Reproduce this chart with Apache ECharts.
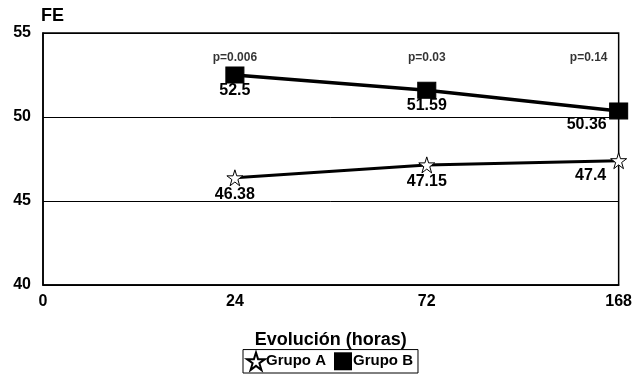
<!DOCTYPE html>
<html>
<head>
<meta charset="utf-8">
<script src="https://cdn.jsdelivr.net/npm/echarts@6/dist/echarts.min.js"></script>
<style>
html,body{margin:0;padding:0;background:#fff;}
#chart{width:635px;height:374px;}
</style>
</head>
<body>
<div id="chart"></div>
<script>
var horas = ['0', '24', '72', '168'];
var grupoA = [null, 46.38, 47.15, 47.4];
var grupoB = [null, 52.5, 51.59, 50.36];
var pValores = ['', 'p=0.006', 'p=0.03', 'p=0.14'];
var pAltura = 53.55; // altura (en FE) de la fila de valores p
var yTicks = [40, 45, 50, 55];

var starPath = 'path://M50,2 L61,37 L98,37 L68,59 L79,95 L50,73 L21,95 L32,59 L2,37 L39,37 Z';
var fuente = 'Liberation Sans';

// el ultimo punto lleva la etiqueta a la izquierda
function conEtiquetas(valores, dx, dy){
    var out = [];
    for (var i = 0; i < valores.length; i++){
        if (valores[i] === null){ out.push(null); continue; }
        var item = {value: valores[i]};
        if (i == valores.length - 1){
            item.label = {offset: [dx, dy]};
        }
        out.push(item);
    }
    return out;
}

var filaP = pValores.map(function(p){ return p ? pAltura : null; });

var myChart = echarts.init(document.getElementById('chart'));
var option = {
    animation: false,
    backgroundColor: '#fff',
    textStyle: {fontFamily: fuente, fontWeight: 'bold', color: '#000'},
    grid: {left: 43, right: 16, top: 33, bottom: 89, show: true, borderColor: '#000', borderWidth: 1.5},
    legend: {
        bottom: 1,
        left: 243,
        data: [{name: 'Grupo A', icon: starPath}, {name: 'Grupo B', icon: 'rect'}],
        itemWidth: 18,
        itemHeight: 18,
        itemGap: 8,
        padding: [2, 5, 2, 3],
        borderColor: '#000',
        borderWidth: 1,
        textStyle: {fontFamily: fuente, fontWeight: 'bold', fontSize: 15, color: '#000', padding: [0, 0, 0, -4]}
    },
    xAxis: {
        type: 'category',
        data: horas,
        boundaryGap: false,
        name: 'Evolución (horas)',
        nameLocation: 'middle',
        nameGap: 46,
        nameTextStyle: {fontFamily: fuente, fontWeight: 'bold', fontSize: 18, color: '#000'},
        axisLine: {lineStyle: {color: '#000', width: 1.5}},
        axisTick: {show: false},
        axisLabel: {fontFamily: fuente, fontWeight: 'bold', fontSize: 16, color: '#000', margin: 9},
        splitLine: {show: false}
    },
    yAxis: {
        type: 'value',
        min: yTicks[0],
        max: yTicks[yTicks.length - 1],
        interval: 5,
        name: 'FE',
        nameGap: 8,
        nameTextStyle: {fontFamily: fuente, fontWeight: 'bold', fontSize: 18, color: '#000', align: 'left', padding: [0, 0, 0, -2]},
        axisLine: {show: true, lineStyle: {color: '#000', width: 1.5}},
        axisTick: {show: false},
        axisLabel: {fontFamily: fuente, fontWeight: 'bold', fontSize: 16, color: '#000', margin: 12},
        splitLine: {show: true, lineStyle: {color: '#000', width: 1}}
    },
    series: [
        {
            name: 'Grupo A',
            type: 'line',
            data: conEtiquetas(grupoA, -28, -2),
            symbol: starPath,
            symbolSize: 16,
            itemStyle: {color: '#fff', borderColor: '#000', borderWidth: 1},
            lineStyle: {color: '#000', width: 3},
            label: {show: true, position: 'bottom', distance: 0, fontFamily: fuente, fontWeight: 'bold', fontSize: 16, color: '#000'},
            z: 3
        },
        {
            name: 'Grupo B',
            type: 'line',
            data: conEtiquetas(grupoB, -32, -2),
            symbol: 'rect',
            symbolSize: [18, 16],
            itemStyle: {color: '#000', borderColor: '#000'},
            lineStyle: {color: '#000', width: 3.5},
            label: {show: true, position: 'bottom', distance: -1, fontFamily: fuente, fontWeight: 'bold', fontSize: 16, color: '#000'},
            z: 3
        },
        {
            name: 'p',
            type: 'scatter',
            data: conEtiquetas(filaP, -30, 0),
            symbolSize: 0,
            silent: true,
            label: {
                show: true,
                position: 'inside',
                fontFamily: fuente,
                fontWeight: 'bold',
                fontSize: 12,
                color: '#000',
                formatter: function(p){ return pValores[p.dataIndex]; }
            }
        }
    ]
};
myChart.setOption(option);
</script>
</body>
</html>
